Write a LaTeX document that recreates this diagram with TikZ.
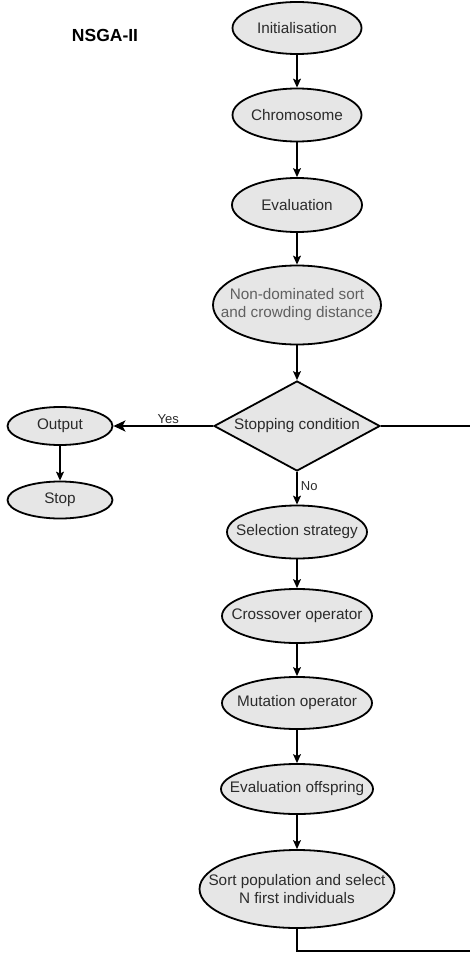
\documentclass[tikz,border=0pt]{standalone}
\usepackage{fontspec}
\setmainfont{Liberation Sans}
\usetikzlibrary{shapes.geometric,arrows.meta}
\definecolor{boxfill}{HTML}{E6E6E6}
\definecolor{boxtext}{HTML}{2B2B2B}

\begin{document}
\begin{tikzpicture}[x=1pt,y=-1pt,
	every node/.style={font=\fontsize{15.3}{18}\selectfont, text=boxtext},
	stepbox/.style={ellipse, draw=black, line width=1.8pt, fill=boxfill, inner xsep=-20pt, inner ysep=0pt, align=center},
	testbox/.style={diamond, draw=black, line width=1.8pt, fill=boxfill, aspect=1.84, inner sep=0pt},
	flow/.style={-{Stealth[length=9pt,width=8pt,inset=2pt]}, line width=1.1pt},
	thickflow/.style={-{Stealth[length=12pt,width=11pt,inset=3pt]}, line width=2pt},
	loopline/.style={line width=2pt}]
	
	\useasboundingbox [fill=white] (0,0) rectangle (469,955);
	
	\node [font=\fontsize{17.5}{20}\selectfont\bfseries, text=black] (title) at (105,35) {NSGA-II};
	
	% main column
	\node [stepbox, minimum width=129pt, minimum height=52pt] (init) at (297,28) {Initialisation};
	\node [stepbox, minimum width=129pt, minimum height=53pt] (chrom) at (297,115) {Chromosome};
	\node [stepbox, minimum width=130pt, minimum height=54pt] (eval) at (297,205) {Evaluation};
	\node [stepbox, minimum width=168pt, minimum height=79pt, text=boxtext!75] (sort) at (297,305) {Non-dominated sort\\and crowding distance};
	\node [testbox, minimum width=166pt, minimum height=90pt] (cond) at (297,426) {Stopping condition};
	\node [stepbox, minimum width=140pt, minimum height=53pt] (select) at (297,532) {Selection strategy};
	\node [stepbox, minimum width=150pt, minimum height=54pt] (cross) at (297,616) {Crossover operator};
	\node [stepbox, minimum width=150pt, minimum height=52pt] (mut) at (297,703) {Mutation operator};
	\node [stepbox, minimum width=152pt, minimum height=50pt] (evoff) at (297,789) {Evaluation offspring};
	\node [stepbox, minimum width=195pt, minimum height=78pt] (popsel) at (297,889) {Sort population and select\\N first individuals};
	
	% exit branch
	\node [stepbox, minimum width=105pt, minimum height=38pt] (output) at (60,426) {Output};
	\node [stepbox, minimum width=105pt, minimum height=37pt] (stop) at (60,500) {Stop};
	
	\draw [flow] (init) -- (chrom);
	\draw [flow] (chrom) -- (eval);
	\draw [flow] (eval) -- (sort);
	\draw [flow] (sort) -- (cond);
	\draw [flow] (cond) -- node [right, font=\fontsize{13}{15}\selectfont, yshift=2pt] {No} (select);
	\draw [flow] (select) -- (cross);
	\draw [flow] (cross) -- (mut);
	\draw [flow] (mut) -- (evoff);
	\draw [flow] (evoff) -- (popsel);
	
	\draw [thickflow] (cond) -- node [above, pos=0.45, font=\fontsize{13}{15}\selectfont, inner sep=1pt] {Yes} (output);
	\draw [flow] (output) -- (stop);
	
	% loop back (cut at the edge)
	\coordinate (condright) at (475,426);
	\coordinate (loopcorner) at (297,951);
	\coordinate (loopright) at (475,951);
	\draw [loopline] (cond.east) -- (condright);
	\draw [loopline] (popsel.south) -- (loopcorner) -- (loopright);

\end{tikzpicture}
\end{document}
